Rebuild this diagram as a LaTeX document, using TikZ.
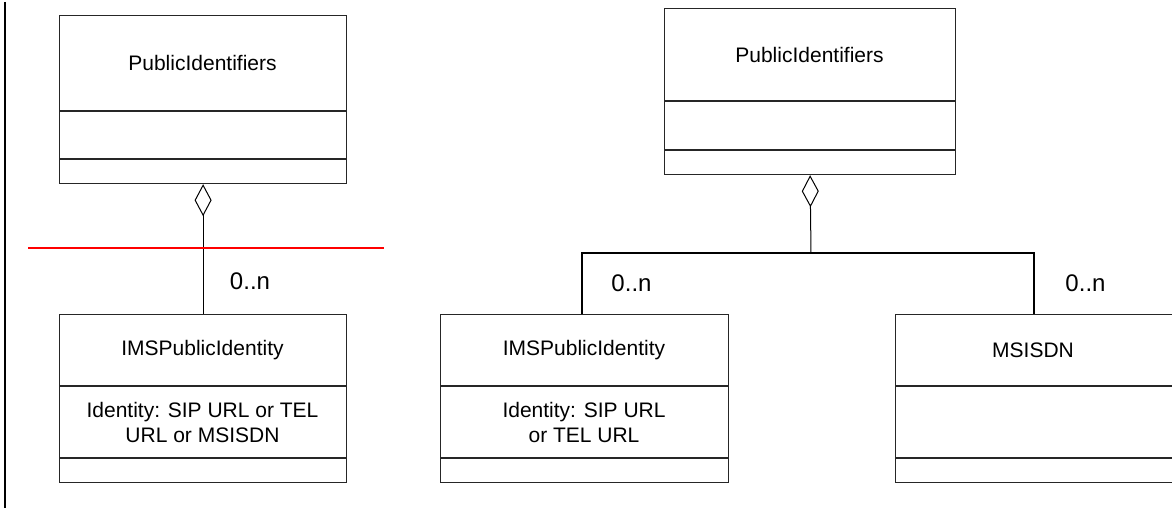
\documentclass[tikz,border=0pt]{standalone}
\usepackage{fontspec}
\setmainfont{Liberation Sans}
\usetikzlibrary{arrows.meta}
\tikzset{
  umlbox/.style={draw=black!85, line width=1.2pt, rectangle, inner sep=0pt, anchor=north west},
  divider/.style={draw=black!85, line width=1.2pt},
  lbl/.style={inner sep=0pt, align=center, font=\fontsize{21}{25}\selectfont},
  mult/.style={inner sep=0pt, font=\fontsize{24}{28}\selectfont},
  assoc/.style={draw=black, line width=1pt},
  thickassoc/.style={draw=black, line width=2.2pt},
  aggr/.style={{Diamond[open, length=32pt, width=17pt, line width=1pt]}-},
}
\begin{document}
\begin{tikzpicture}[x=1pt, y=-1pt]
\useasboundingbox (0,0) rectangle (1172,508);
% left margin bar
\draw[line width=2.2pt] (5,2) -- (5,508);

% ---------- left diagram ----------
\node[umlbox, minimum width=287pt, minimum height=168pt] (lpi) at (59,15) {};
\draw[divider] (59,111) -- (346,111);
\draw[divider] (59,159) -- (346,159);
\node[lbl] (lpit) at (202.5,63) {PublicIdentifiers};

\node[umlbox, minimum width=287pt, minimum height=168pt] (lims) at (59,314) {};
\draw[divider] (59,386) -- (346,386);
\draw[divider] (59,458) -- (346,458);
\node[lbl] (limst) at (202.5,350) {IMSPublicIdentity};
\node[lbl] (limsa) at (202.5,422.5) {Identity: SIP URL or TEL\\URL or MSISDN};

\draw[assoc, aggr] (lpi.south) -- (lims.north);
\node[mult] (lmult) at (250,281) {0..n};
\draw[red, line width=1.5pt] (28,248) -- (384,248);

% ---------- right diagram ----------
\node[umlbox, minimum width=291pt, minimum height=166pt] (rpi) at (664,8) {};
\draw[divider] (664,101) -- (955,101);
\draw[divider] (664,150) -- (955,150);
\node[lbl] (rpit) at (809.5,55) {PublicIdentifiers};

\node[umlbox, minimum width=288pt, minimum height=168pt] (rims) at (440,314) {};
\draw[divider] (440,386) -- (728,386);
\draw[divider] (440,458) -- (728,458);
\node[lbl] (rimst) at (584,350) {IMSPublicIdentity};
\node[lbl] (rimsa) at (584,422.5) {Identity: SIP URL\\or TEL URL};

\node[umlbox, minimum width=290pt, minimum height=168pt] (rms) at (895,314) {};
\draw[divider] (895,386) -- (1185,386);
\draw[divider] (895,458) -- (1185,458);
\node[lbl] (rmst) at (1033,350) {MSISDN};

\coordinate (bar) at (811,253);
\coordinate (barl) at (582,253);
\coordinate (barr) at (1034,253);
\draw[assoc, aggr] (rpi.south) -- (bar);
\draw[thickassoc, line join=miter] (rims.north -| barl) -- (barl) -- (barr) -- (rms.north -| barr);
\node[mult] (rmult1) at (631.5,283) {0..n};
\node[mult] (rmult2) at (1085.5,283) {0..n};
\end{tikzpicture}
\end{document}
